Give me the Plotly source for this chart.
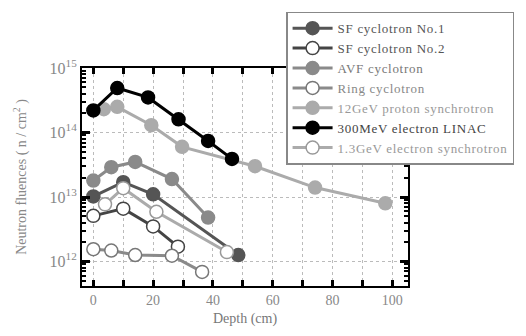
import plotly.graph_objects as go

# ---- data ----
sf1_x = [0, 10, 20, 48.5]
sf1_y = [1.02e13, 1.7e13, 1.1e13, 1.26e12]

sf2_x = [0, 10, 20, 28.3]
sf2_y = [5.1e12, 6.6e12, 3.5e12, 1.7e12]

avf_x = [0, 6, 14, 26.3, 38.4]
avf_y = [1.8e13, 2.9e13, 3.5e13, 1.9e13, 4.8e12]

ring_x = [0, 6, 14, 26.3, 36.4]
ring_y = [1.55e12, 1.48e12, 1.26e12, 1.23e12, 6.9e11]

p12_x = [3.5, 8, 19.4, 29.7, 54.1, 74.2, 97.7]
p12_y = [2.3e14, 2.5e14, 1.3e14, 6.0e13, 3.0e13, 1.4e13, 8.0e12]

linac_x = [0, 8, 18.3, 28.5, 38.4, 46.4]
linac_y = [2.2e14, 4.9e14, 3.5e14, 1.6e14, 7.4e13, 3.9e13]

e13_x = [3.9, 10, 21.1, 44.7]
e13_y = [7.7e12, 1.37e13, 5.9e12, 1.4e12]

names = ["SF cyclotron No.1", "SF cyclotron No.2", "AVF cyclotron", "Ring cyclotron",
         "12GeV proton synchrotron", "300MeV electron LINAC", "1.3GeV electron synchrotron"]

x_tickvals = [0, 10, 20, 30, 40, 50, 60, 70, 80, 90, 100]
x_ticktext = ["0", "", "20", "", "40", "", "60", "", "80", "", "100"]
y_tickvals = [1e12, 1e13, 1e14, 1e15]
y_ticktext = ["10<sup>12</sup>", "10<sup>13</sup>", "10<sup>14</sup>", "10<sup>15</sup>"]

# ---- styles ----
series = [
    (sf1_x, sf1_y, "#555555", "#555555", "#555555"),
    (sf2_x, sf2_y, "#444444", "white", "#444444"),
    (avf_x, avf_y, "#8a8a8a", "#8a8a8a", "#8a8a8a"),
    (ring_x, ring_y, "#8a8a8a", "white", "#777777"),
    (p12_x, p12_y, "#ababab", "#ababab", "#ababab"),
    (linac_x, linac_y, "#000000", "#000000", "#000000"),
    (e13_x, e13_y, "#ababab", "white", "#999999"),
]
text_cols = ["#555555", "#555555", "#777777", "#888888", "#999999", "#444444", "#999999"]

fig = go.Figure()
for (xs, ys, lc, mfill, mline), nm, tc in zip(series, names, text_cols):
    fig.add_trace(go.Scatter(
        x=xs, y=ys, mode="lines+markers",
        name=f"<span style='color:{tc};letter-spacing:0.7px'>{nm}</span>",
        line=dict(color=lc, width=3),
        marker=dict(size=13, color=mfill, line=dict(color=mline, width=1.5)),
    ))

font_fam = "Liberation Serif, Times New Roman, serif"
fig.update_layout(
    width=526, height=336,
    margin=dict(l=82, r=118, t=62, b=48),
    paper_bgcolor="white", plot_bgcolor="white",
    font=dict(family=font_fam, color="#777777", size=13),
    showlegend=True,
    legend=dict(
        x=0.626, y=1.258, xanchor="left", yanchor="top",
        bgcolor="white", bordercolor="#888888", borderwidth=1.5,
        font=dict(family=font_fam, size=13, color="#666666"),
        tracegroupgap=0, itemwidth=40,
    ),
    xaxis=dict(
        range=[-3.8, 105.3],
        tickvals=x_tickvals, ticktext=x_ticktext,
        ticks="inside", ticklen=6, tickwidth=2.5, tickcolor="black",
        showline=True, linewidth=2, linecolor="black", mirror="ticks",
        showgrid=True, gridcolor="#bbbbbb", griddash="dot", gridwidth=1,
        zeroline=False,
        title=dict(text="Depth (cm)", standoff=6, font=dict(size=14, color="#777777")),
        tickfont=dict(size=14, color="#888888"),
    ),
    yaxis=dict(
        type="log", range=[11.62, 15.0005],
        tickvals=y_tickvals, ticktext=y_ticktext,
        ticks="inside", ticklen=8, tickwidth=2.5, tickcolor="black",
        minor=dict(ticks="inside", ticklen=4, tickwidth=1.5, tickcolor="black",
                   dtick="D1", showgrid=False),
        showline=True, linewidth=2, linecolor="black", mirror="ticks",
        showgrid=True, gridcolor="#bbbbbb", griddash="dot", gridwidth=1,
        zeroline=False,
        title=dict(text="Neutron fluences ( n / cm<sup>2</sup> )", standoff=20,
                   font=dict(size=14, color="#888888")),
        tickfont=dict(size=16, color="#888888"),
    ),
)

fig.write_html("out.html")
